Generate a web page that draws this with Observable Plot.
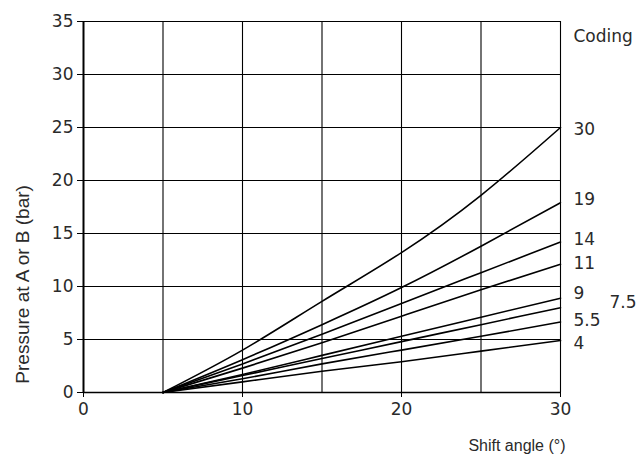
<!DOCTYPE html>
<html>
<head>
<meta charset="utf-8">
<script src="https://cdn.jsdelivr.net/npm/d3@7"></script>
<script src="https://cdn.jsdelivr.net/npm/@observablehq/plot@0.6"></script>
<style>
  body { margin: 0; background: #fff; }
  #chart svg { display: block; }
</style>
</head>
<body>
<div id="chart"></div>
<script>
// Coding curves: pressure (bar) vs shift angle (°)
const codings = ["30", "19", "14", "11", "9", "7.5", "5.5", "4"];
const angles = [5, 10, 15, 20, 25, 30];
const p30  = [0, 4.0, 8.6, 13.2, 18.6, 25.0];
const p19  = [0, 3.1, 6.4, 9.9, 13.8, 17.9];
const p14  = [0, 2.7, 5.5, 8.4, 11.3, 14.2];
const p11  = [0, 2.3, 4.7, 7.2, 9.7, 12.1];
const p9   = [0, 1.7, 3.5, 5.3, 7.1, 8.9];
const p7_5 = [0, 1.6, 3.2, 4.8, 6.4, 8.0];
const p5_5 = [0, 1.3, 2.7, 4.0, 5.3, 6.65];
const p4   = [0, 1.0, 2.0, 2.9, 3.9, 4.9];
const series = [p30, p19, p14, p11, p9, p7_5, p5_5, p4];

// label positions at right edge (y in bar)
const labelY = [24.8, 18.2, 14.4, 12.2, 9.3, 8.5, 6.8, 4.6];
const labelDx = [13, 13, 13, 13, 13, 49, 13, 13];

const xTicks = [0, 10, 20, 30];
const yTicks = [0, 5, 10, 15, 20, 25, 30, 35];
const xGrid = [5, 10, 15, 20, 25, 30];

const rows = [];
codings.forEach((c, i) => angles.forEach((a, j) => rows.push({coding: c, angle: a, p: series[i][j]})));
const labels = codings.map((c, i) => ({coding: c, y: labelY[i], dx: labelDx[i]}));

const titleFont = "Liberation Sans, Arial, sans-serif";
const numFont = "DejaVu Sans, sans-serif";
const ink = "#2a2a2a";

const chart = Plot.plot({
  width: 643,
  height: 458,
  marginLeft: 83,
  marginRight: 83,
  marginTop: 21,
  marginBottom: 66,
  style: { fontFamily: numFont, fontSize: "17px", color: ink, background: "#fff", overflow: "visible" },
  x: { domain: [0, 30], label: null },
  y: { domain: [0, 35], label: null },
  marks: [
    Plot.ruleX(xGrid, { stroke: "#000", strokeWidth: 1.1 }),
    Plot.ruleY(yTicks, { stroke: "#000", strokeWidth: 1.1 }),
    Plot.ruleX([0], { stroke: "#000", strokeWidth: 2 }),
    Plot.ruleY([0], { stroke: "#000", strokeWidth: 1.5 }),
    Plot.axisX({ ticks: xTicks, tickSize: 5, tickPadding: 5, fontSize: 17, fontFamily: numFont, stroke: "#000", fill: ink, label: null }),
    Plot.axisY({ ticks: yTicks, tickSize: 6, tickPadding: 4, fontSize: 17, fontFamily: numFont, stroke: "#000", fill: ink, label: null }),
    Plot.line(rows, { x: "angle", y: "p", z: "coding", curve: "natural", stroke: "#000", strokeWidth: 1.6 }),
    Plot.text(labels, { x: 30, y: "y", text: "coding", dx: 13, textAnchor: "start", fontSize: 17, fontFamily: numFont, fill: ink,
      filter: d => d.dx === 13 }),
    Plot.text(labels, { x: 30, y: "y", text: "coding", dx: 49, textAnchor: "start", fontSize: 17, fontFamily: numFont, fill: ink,
      filter: d => d.dx === 49 }),
    Plot.text(["Coding"], { x: 30, y: 33.6, dx: 13, textAnchor: "start", fontSize: 17, fontFamily: numFont, fill: ink }),
    Plot.text(["Shift angle (°)"], { x: 30, y: 0, dy: 53, dx: 5, textAnchor: "end", fontSize: 16, fontFamily: titleFont, fill: ink }),
    Plot.text(["Pressure at A or B (bar)"], { x: 0, y: 10.2, dx: -61, rotate: -90, textAnchor: "middle", fontSize: 19, fontFamily: titleFont, fill: ink })
  ]
});
document.getElementById("chart").appendChild(chart);
</script>
</body>
</html>
